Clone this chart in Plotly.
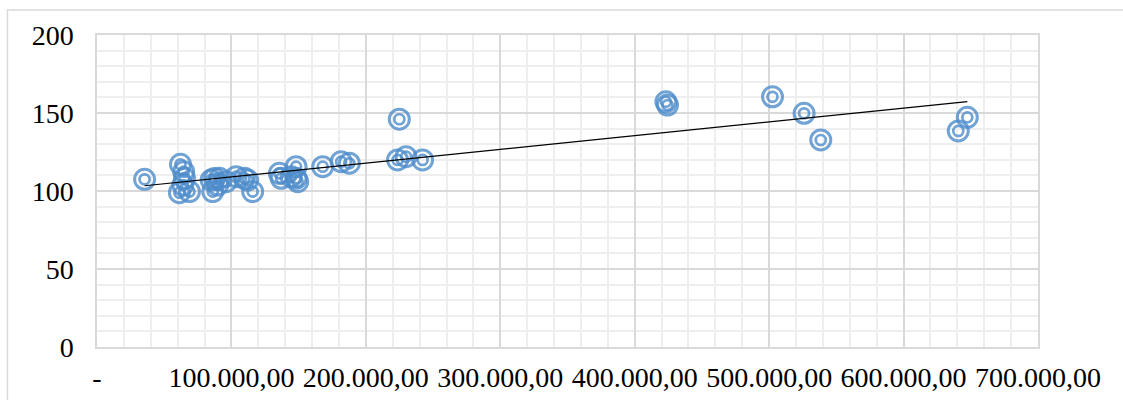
import numpy as np
import plotly.graph_objects as go

# Observations: x value and y value
x_vals = [35400, 62100, 64500, 65100, 61300, 68800, 63800,
          84900, 86100, 89800, 91100, 96100, 87400,
          103500, 109700, 112100, 115800,
          137000, 135700, 148100, 148100, 144400, 149300,
          167900, 181600, 187700,
          224900, 223600, 229900, 242200,
          423200, 424400, 502500, 526000, 538400,
          647400, 640700]
y_vals = [107.5, 117.1, 112.4, 108.1, 98.9, 99.6, 103.8,
          107.0, 99.6, 103.8, 108.1, 106.0, 108.0,
          109.2, 108.1, 107.0, 99.6,
          108.1, 111.3, 115.6, 108.1, 109.2, 106.0,
          115.6, 118.8, 117.8,
          146.0, 119.9, 122.0, 119.9,
          157.2, 155.1, 160.4, 149.8, 132.7,
          147.2, 138.5]

x_tickvals = [0, 100000, 200000, 300000, 400000, 500000, 600000, 700000]
x_ticktext = ["-", "100.000,00", "200.000,00", "300.000,00", "400.000,00",
              "500.000,00", "600.000,00", "700.000,00"]
y_tickvals = [0, 50, 100, 150, 200]

MARKER_COLOR = "rgba(78,140,202,0.8)"
FONT = dict(family="Liberation Serif, Times New Roman, serif", size=28, color="black")

# Linear least-squares trend line over the data span
xa = np.array(x_vals, dtype=float)
ya = np.array(y_vals, dtype=float)
slope, intercept = np.polyfit(xa, ya, 1)
trend_x = [xa.min(), xa.max()]
trend_y = [slope * v + intercept for v in trend_x]

fig = go.Figure()

# Double-ring markers: outer ring and inner ring
fig.add_trace(go.Scatter(
    x=x_vals, y=y_vals, mode="markers",
    marker=dict(symbol="circle-open", size=20, color=MARKER_COLOR,
                line=dict(width=3, color=MARKER_COLOR)),
    hoverinfo="skip", showlegend=False))
fig.add_trace(go.Scatter(
    x=x_vals, y=y_vals, mode="markers",
    marker=dict(symbol="circle-open", size=10, color=MARKER_COLOR,
                line=dict(width=2.7, color=MARKER_COLOR)),
    showlegend=False))
fig.add_trace(go.Scatter(
    x=trend_x, y=trend_y, mode="lines",
    line=dict(color="black", width=1.2),
    hoverinfo="skip", showlegend=False))

fig.update_xaxes(
    range=[0, 700000], tickvals=x_tickvals, ticktext=x_ticktext,
    showgrid=True, gridcolor="#d9d9d9", gridwidth=1.5,
    minor=dict(dtick=20000, showgrid=True, gridcolor="#eeeeee", gridwidth=1.5),
    zeroline=False, showline=True, mirror=True, linecolor="#d9d9d9", linewidth=1.5,
    ticks="", tickfont=FONT, ticklabelstandoff=5, automargin=False)
fig.update_yaxes(
    range=[0, 200], tickvals=y_tickvals,
    showgrid=True, gridcolor="#d9d9d9", gridwidth=1.5,
    minor=dict(dtick=10, showgrid=True, gridcolor="#eeeeee", gridwidth=1.5),
    zeroline=False, showline=True, mirror=True, linecolor="#d9d9d9", linewidth=1.5,
    ticks="", tickfont=FONT, ticklabelstandoff=16, automargin=False)

# Chart-area frame (left and top edges visible)
fig.add_shape(type="rect", xref="paper", yref="paper",
              x0=(8 - 97.5) / 940.5, x1=(1135 - 97.5) / 940.5,
              y0=(347 - 410) / 312, y1=(347 - 10) / 312,
              line=dict(color="#d9d9d9", width=1.5), fillcolor="rgba(0,0,0,0)",
              layer="below")

fig.update_layout(
    width=1123, height=400,
    margin=dict(l=97, r=85, t=35, b=53, autoexpand=False),
    paper_bgcolor="white", plot_bgcolor="white",
    font=FONT)

fig.write_html("out.html")
